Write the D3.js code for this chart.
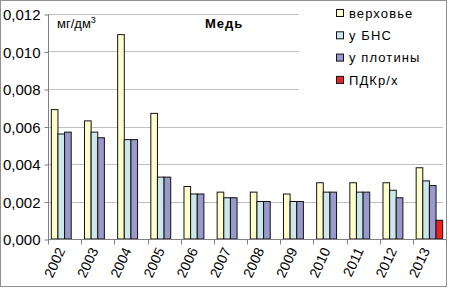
<!DOCTYPE html>
<meta charset="utf-8">
<style>
  body { margin: 0; background: #fff; }
  text { font-family: Arial, "Liberation Sans", sans-serif; fill: #000; }
  .grid line { stroke: #c0c0c0; }
  .axis .domain, .axis line { stroke: #808080; }
</style>
<body>
<script src="https://d3js.org/d3.v7.min.js"></script>
<script>
  var years = ["2002", "2003", "2004", "2005", "2006", "2007", "2008", "2009", "2010", "2011", "2012", "2013"];
  var seriesNames = ["верховье", "у БНС", "у плотины", "ПДКр/х"];
  var verkhovye = [0.0069, 0.0063, 0.0109, 0.0067, 0.0028, 0.0025, 0.0025, 0.0024, 0.0030, 0.0030, 0.0030, 0.0038];
  var uBns = [0.0056, 0.0057, 0.0053, 0.0033, 0.0024, 0.0022, 0.0020, 0.0020, 0.0025, 0.0025, 0.0026, 0.0031];
  var uPlotiny = [0.0057, 0.0054, 0.0053, 0.0033, 0.0024, 0.0022, 0.0020, 0.0020, 0.0025, 0.0025, 0.0022, 0.00285];
  var pdk = [null, null, null, null, null, null, null, null, null, null, null, 0.0010];
  var yTicks = [0, 0.002, 0.004, 0.006, 0.008, 0.010, 0.012];
  var colors = ["#ffffcc", "#cce8ea", "#9999cc", "#ee2020"];

  var allSeries = [verkhovye, uBns, uPlotiny, pdk];

  var W = 449, H = 289;
  var plotL = 48, plotR = 446, plotT = 14, plotB = 239;

  var svg = d3.select("body").append("svg")
    .attr("width", W)
    .attr("height", H);

  // outer frame
  svg.append("rect")
    .attr("x", 0.5).attr("y", 0.5)
    .attr("width", W - 3).attr("height", H - 3)
    .attr("fill", "#fff")
    .attr("stroke", "#909090");

  var y = d3.scaleLinear().domain([0, 0.012]).range([plotB, plotT]);
  var x0 = d3.scaleBand().domain(years).range([plotL, plotR]);
  var x1 = d3.scaleBand().domain(d3.range(seriesNames.length))
    .range([0, x0.bandwidth()]).paddingOuter(0.5);

  // gridlines
  svg.append("g").attr("class", "grid")
    .selectAll("line")
    .data(yTicks.slice(1))
    .enter().append("line")
    .attr("x1", plotL).attr("x2", plotR - 3)
    .attr("y1", function (d) { return Math.round(y(d)) + 0.5; })
    .attr("y2", function (d) { return Math.round(y(d)) + 0.5; });

  // bars
  svg.append("g").selectAll("g")
    .data(allSeries)
    .enter().append("g")
    .attr("fill", function (d, i) { return colors[i]; })
    .attr("transform", function (d, i) { return "translate(" + x1(i) + ",0)"; })
    .selectAll("rect")
    .data(function (d) { return d.map(function (v, j) { return { v: v, year: years[j] }; }).filter(function (e) { return e.v != null; }); })
    .enter().append("rect")
    .attr("x", function (d) { return x0(d.year); })
    .attr("width", x1.bandwidth())
    .attr("y", function (d) { return y(d.v); })
    .attr("height", function (d) { return y(0) - y(d.v); })
    .attr("stroke", "#111")
    .attr("stroke-width", 1);

  // y axis
  var yAxis = d3.axisLeft(y).tickValues(yTicks).tickSize(4).tickPadding(4)
    .tickFormat(function (d) { return d3.format(".3f")(d).replace(".", ","); });
  var gy = svg.append("g").attr("class", "axis")
    .attr("transform", "translate(" + (plotL + 0.5) + ",0.5)")
    .call(yAxis);
  gy.selectAll("text").style("font-size", "15px").attr("dy", "0.36em");
  gy.select(".domain").attr("d", "M0," + (plotT - 0.5) + "V" + (plotB - 0.5));

  // x axis: ticks on category boundaries
  var gx = svg.append("g").attr("class", "axis")
    .attr("transform", "translate(0," + (plotB + 0.5) + ")");
  gx.append("line").attr("x1", plotL).attr("x2", plotR).attr("y1", 0).attr("y2", 0);
  gx.selectAll("line.tk")
    .data(years.concat(["end"]))
    .enter().append("line").attr("class", "tk")
    .attr("x1", function (d, i) { return Math.round(plotL + i * x0.step()) + 0.5; })
    .attr("x2", function (d, i) { return Math.round(plotL + i * x0.step()) + 0.5; })
    .attr("y1", 0).attr("y2", 5);
  gx.selectAll("text")
    .data(years)
    .enter().append("text")
    .attr("transform", function (d) {
      return "translate(" + (x0(d) + x0.bandwidth() / 2 + 1) + ",11) rotate(-65)";
    })
    .attr("text-anchor", "end")
    .style("font-size", "14px")
    .text(function (d) { return d; });

  // units and title
  var unit = svg.append("text").attr("x", 57).attr("y", 28).style("font-size", "13px");
  unit.append("tspan").text("мг/дм");
  unit.append("tspan").attr("dy", -5).style("font-size", "9px").text("3");

  svg.append("text").attr("x", 205).attr("y", 28)
    .style("font-size", "13px").style("font-weight", "bold")
    .style("letter-spacing", "1px")
    .text("Медь");

  // legend
  var lg = svg.append("g");
  lg.append("rect").attr("x", 299).attr("y", 1).attr("width", 146).attr("height", 110).attr("fill", "#fff");
  var item = lg.selectAll("g.it")
    .data(seriesNames)
    .enter().append("g").attr("class", "it")
    .attr("transform", function (d, i) { return "translate(336," + (13 + i * 22.3) + ")"; });
  item.append("rect")
    .attr("x", 0.5).attr("y", -3.5).attr("width", 7).attr("height", 7)
    .attr("fill", function (d, i) { return colors[i]; })
    .attr("stroke", "#111");
  item.append("text")
    .attr("x", 13).attr("dy", "0.36em")
    .style("font-size", "13px")
    .style("letter-spacing", "1.1px")
    .text(function (d) { return d; });
</script>
</body>
